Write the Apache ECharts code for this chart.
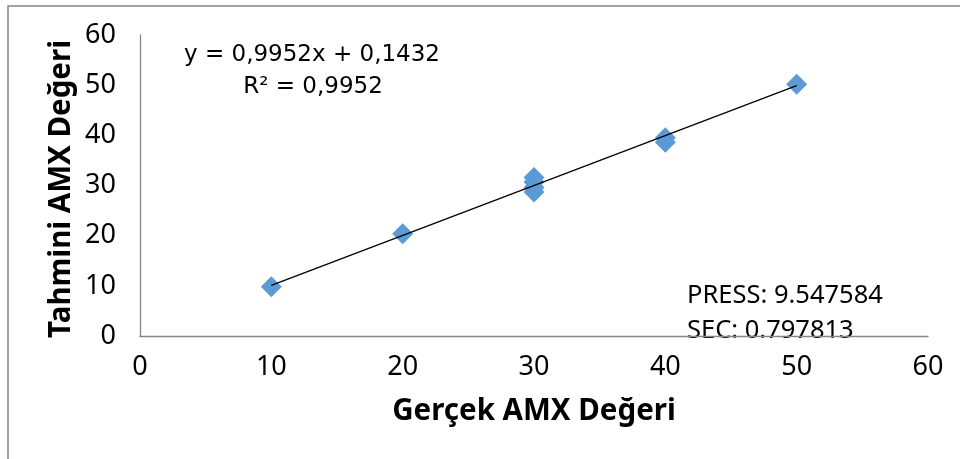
<!DOCTYPE html>
<html>
<head>
<meta charset="utf-8">
<script src="https://cdn.jsdelivr.net/npm/echarts@6/dist/echarts.min.js"></script>
<style>html,body{margin:0;padding:0;background:#fff;}#c{width:960px;height:459px;}</style>
</head>
<body>
<div id="c"></div>
<script>
// Data
const actualX = [10, 20, 30, 30, 30, 30, 40, 40, 50];
const predictedY = [9.8, 20.4, 31.6, 30.7, 29.6, 28.7, 39.5, 38.6, 50.2];
const xTicks = [0, 10, 20, 30, 40, 50, 60];
const yTicks = [0, 10, 20, 30, 40, 50, 60];
const trendSlope = [0.9952];
const trendIntercept = [0.1432];
const trendRange = [10, 50];
const equationText = ['y = 0,9952x + 0,1432', 'R² = 0,9952'];
const statsText = ['PRESS: 9.547584', 'SEC: 0.797813'];
const xTitle = 'Gerçek AMX Değeri';
const yTitle = 'Tahmini AMX Değeri';

const points = actualX.map((x, i) => [x, predictedY[i]]);
const trend = trendRange.map(x => [x, trendSlope[0] * x + trendIntercept[0]]);

const FONT = 'Noto Sans';
const WIDE = 'DejaVu Sans';
const chart = echarts.init(document.getElementById('c'), null, {renderer: 'canvas'});
chart.setOption({
  animation: false,
  backgroundColor: '#fff',
  grid: {left: 140, right: 32, top: 35, bottom: 123, containLabel: false},
  xAxis: {
    type: 'value', min: xTicks[0], max: xTicks[xTicks.length - 1], interval: 10,
    axisLine: {show: true, lineStyle: {color: '#868686', width: 1.3}},
    axisTick: {show: false}, splitLine: {show: false},
    axisLabel: {fontFamily: FONT, fontSize: 27, color: '#000', margin: 18}
  },
  yAxis: {
    type: 'value', min: yTicks[0], max: yTicks[yTicks.length - 1], interval: 10,
    axisLine: {show: true, lineStyle: {color: '#868686', width: 1.3}},
    axisTick: {show: false}, splitLine: {show: false},
    axisLabel: {fontFamily: FONT, fontSize: 27, color: '#000', margin: 24}
  },
  series: [
    {
      type: 'line', data: trend, symbol: 'none', z: 3,
      lineStyle: {color: '#000', width: 1.3}
    },
    {
      type: 'scatter', data: points, symbol: 'diamond', symbolSize: 21, z: 2,
      itemStyle: {color: '#5B9BD5', opacity: 1}
    }
  ],
  graphic: [
    {type: 'rect', shape: {x: 8, y: 6, width: 1000, height: 500}, style: {fill: 'none', stroke: '#878787', lineWidth: 1.5}, silent: true},
    {type: 'text', x: 312, y: 55, style: {text: equationText[0], fontFamily: WIDE, fontSize: 23, fill: '#000', textAlign: 'center', textVerticalAlign: 'middle'}},
    {type: 'text', x: 313, y: 87, style: {text: equationText[1], fontFamily: WIDE, fontSize: 23, fill: '#000', textAlign: 'center', textVerticalAlign: 'middle'}},
    {type: 'text', x: 687, y: 296, style: {text: statsText[0], fontFamily: FONT, fontSize: 25.5, fill: '#000', textAlign: 'left', textVerticalAlign: 'middle'}},
    {type: 'text', x: 687, y: 331, style: {text: statsText[1], fontFamily: FONT, fontSize: 25.5, fill: '#000', textAlign: 'left', textVerticalAlign: 'middle'}},
    {type: 'text', x: 534, y: 412, style: {text: xTitle, fontFamily: FONT, fontWeight: 'bold', fontSize: 29.5, fill: '#000', textAlign: 'center', textVerticalAlign: 'middle'}},
    {type: 'text', x: 62, y: 189, rotation: Math.PI / 2, style: {text: yTitle, fontFamily: FONT, fontWeight: 'bold', fontSize: 29.5, fill: '#000', textAlign: 'center', textVerticalAlign: 'middle'}}
  ]
});
</script>
</body>
</html>
